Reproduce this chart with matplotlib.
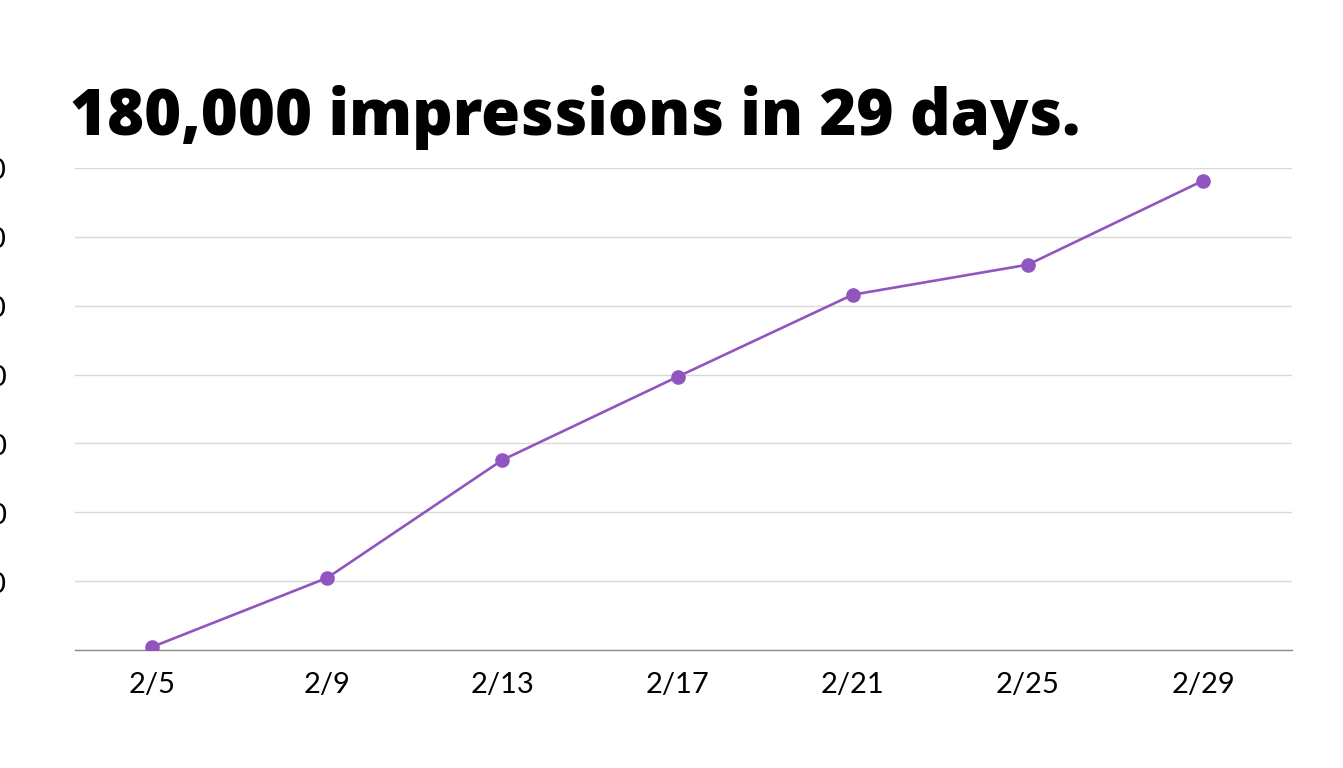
import matplotlib.pyplot as plt
from matplotlib.ticker import FuncFormatter

# impressions, cumulative
days = [5, 9, 13, 17, 21, 25, 29]
day_labels = ['2/5', '2/9', '2/13', '2/17', '2/21', '2/25', '2/29']
impressions = [1100, 26200, 69000, 99200, 129000, 139900, 170400]
y_ticks = [0, 25000, 50000, 75000, 100000, 125000, 150000, 175000]

purple = '#9155c0'

fig = plt.figure(figsize=(13.43, 7.68), dpi=100)
ax = fig.add_axes([75/1343, 1 - 650/768, (1292 - 75)/1343, (650 - 168)/768])

ax.plot(days, impressions, color=purple, lw=1.9, marker='o', ms=9.5, zorder=3)

ax.set_xlim(3.24, 31.03)
ax.set_ylim(0, 175000)
ax.set_xticks(days)
ax.set_xticklabels(day_labels, fontsize=21, family='Lato')
ax.set_yticks(y_ticks)
# the baseline carries no label, the others run off the left edge
ax.yaxis.set_major_formatter(FuncFormatter(lambda v, p: f'{int(v):,}' if v > 0 else ''))
for lab in ax.get_yticklabels():
    lab.set_fontsize(21)
    lab.set_family('Lato')
ax.tick_params(axis='y', length=0, pad=49)
ax.tick_params(axis='x', length=0, pad=16)

ax.grid(axis='y', color='#d9d9d9', lw=1)
ax.set_axisbelow(True)
for s in ['top', 'right', 'left']:
    ax.spines[s].set_visible(False)
ax.spines['bottom'].set_color('#8c8c8c')
ax.spines['bottom'].set_linewidth(1)

fig.text(70/1343, 1 - 135/768, '180,000 impressions in 29 days.',
         fontsize=45.5, fontweight='heavy', family='Open Sans', va='baseline', ha='left')

fig.savefig('out.png', dpi=100)
